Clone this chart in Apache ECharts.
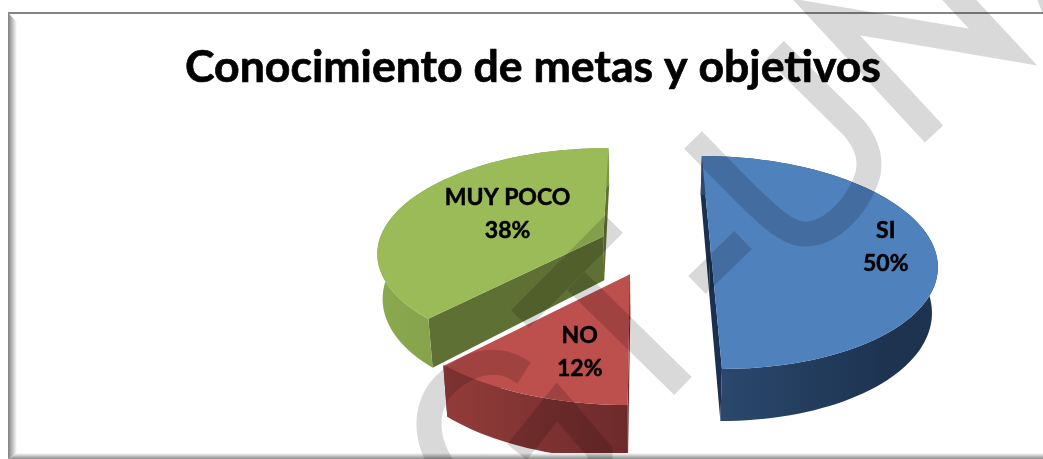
<!DOCTYPE html>
<html><head><meta charset="utf-8">
<style>html,body{margin:0;padding:0;background:#fff}#c{width:1043px;height:459px}</style>
<script src="https://cdn.jsdelivr.net/npm/echarts@6/dist/echarts.min.js"></script>
</head><body><div id="c"></div>
<script>
const chartTitle = 'Conocimiento de metas y objetivos';
const categories = ['SI', 'NO', 'MUY POCO'];
const values = [50, 12, 38];

// perspective of the 3D pie
const VP = {x: 643, y: -467}, G = 4891, WALL = 305, BOTTOM_SCALE = 0.98;
const sliceGeom = [
  {X: 462, E: 6.851, F: 1530, z: 5, top: '#4f81bd', walls: ['#2c4a70', '#1d3350'], side: '#1b3050', label: {r: .785, a: 90}},
  {X: -86, E: 6.609, F: 1590, z: 3, top: '#bd4f4c', walls: ['#923c3a', '#6d2a2a'], side: '#6d2a2a', label: {r: .665, a: 196}, sep: true},
  {X: -275, E: 6.953, F: 1550, z: 1, top: '#9bbb59', walls: ['#8aa84e', '#7d9845'], side: '#5e7034', label: {r: .505, a: 297}}
];
function pt(g, deg, r, low) {
  const t = deg * Math.PI / 180, e = g.E + r * Math.cos(t);
  let x = VP.x + (g.X + g.F * r * Math.sin(t)) / e, y = VP.y + G / e;
  if (low) { x = VP.x + (x - VP.x) * BOTTOM_SCALE; y += WALL / e; }
  return [x, y];
}
function arc(g, a, b, low) {
  const out = [], n = Math.ceil(Math.abs(b - a) / 2);
  for (let i = 0; i <= n; i++) out.push(pt(g, a + (b - a) * i / n, 1, low));
  return out;
}
const total = values.reduce((s, v) => s + v, 0);
function renderSlice(params, api) {
  const i = params.dataIndex, g = sliceGeom[i];
  let start = 0;
  for (let k = 0; k < i; k++) start += values[k] / total * 360;
  const end = start + api.value(0) / total * 360;
  const top = arc(g, start, end, false), low = arc(g, start, end, true);
  const c0 = pt(g, 0, 0, false), c1 = pt(g, 0, 0, true);
  const xs = low.map(p => p[0]);
  const grad = new echarts.graphic.LinearGradient(Math.min(...xs), 0, Math.min(Math.max(...xs), Math.min(...xs) + 190), 0,
    [{offset: 0, color: g.walls[0]}, {offset: 1, color: g.walls[1]}], true);
  const kids = [];
  const poly = (points, fill, z2) => kids.push({type: 'polygon', shape: {points}, style: {fill}, z2});
  poly([c0, top[0], low[0], c1], g.side, g.z);
  poly([c0, top[top.length - 1], low[low.length - 1], c1], g.side, g.z);
  poly(top.concat(low.slice().reverse()), grad, g.z);
  poly([c0].concat(top), g.top, g.z + 0.5);
  if (g.sep) kids.push({type: 'line', shape: {x1: c0[0], y1: c0[1], x2: top[top.length - 1][0], y2: top[top.length - 1][1]},
    style: {stroke: '#fff', lineWidth: 2}, z2: g.z + 0.6});
  const lp = pt(g, g.label.a, g.label.r, false);
  kids.push({type: 'text', x: lp[0], y: lp[1], z2: 20, style: {
    text: api.value(1) + '\n' + Math.round(api.value(0) / total * 100) + '%',
    font: 'bold 23px Lato', fill: '#000', stroke: '#000', lineWidth: 0.5,
    align: 'center', verticalAlign: 'middle', lineHeight: 33}});
  return {type: 'group', children: kids};
}
const wm = 'rgba(0,0,0,0.15)';
const marks = [
  'M934 134 L826 17 L1003 47 L950 -10',
  'M1047 -10 L1066 40',
  'M775 50 L850 124 C870 144 872 165 866 180 C856 208 830 234 806 234 C782 234 762 210 693 140',
  'M743 240 L697 285',
  'M614 224 L520 319',
  'M576 281 L683 386',
  'M524 373 C490 348 455 372 440 390 C425 410 424 440 445 470',
  'M517 452 L557 402 L600 452 L600 470'
];
function strokePoints(d) {
  const toks = d.match(/[MLC]|-?\d+(\.\d+)?/g), pts = [];
  let i = 0, cmd = '';
  const num = () => +toks[i++];
  while (i < toks.length) {
    if (/[MLC]/.test(toks[i])) cmd = toks[i++];
    if (cmd === 'C') {
      const p0 = pts[pts.length - 1], a = [num(), num()], b = [num(), num()], c = [num(), num()];
      for (let k = 1; k <= 16; k++) {
        const t = k / 16, u = 1 - t;
        pts.push([0, 1].map(j => u*u*u*p0[j] + 3*u*u*t*a[j] + 3*u*t*t*b[j] + t*t*t*c[j]));
      }
    } else pts.push([num(), num()]);
  }
  return pts;
}
const graphic = marks.map(d => ({type: 'polyline', z: 100, silent: true, shape: {points: strokePoints(d)},
  style: {fill: null, stroke: wm, lineWidth: 25, lineJoin: 'miter', miterLimit: 10}}));
const edge = (a, b, x1, y1, x2, y2) => new echarts.graphic.LinearGradient(x1, y1, x2, y2, [{offset: 0, color: a}, {offset: 1, color: b}]);
graphic.push(
  {type: 'polygon', z: 50, silent: true, shape: {points: [[8, 13], [17, 22], [17, 453], [8, 459]]},
    style: {fill: edge('#7f7f7f', '#ffffff', 0, 0, 1, 0)}},
  {type: 'polygon', z: 50, silent: true, shape: {points: [[8, 459], [17, 453], [1043, 453], [1043, 459]]},
    style: {fill: edge('#ffffff', '#8a8a8a', 0, 0, 0, 1)}},
  {type: 'line', z: 51, silent: true, shape: {x1: 8, y1: 13, x2: 1043, y2: 13}, style: {stroke: '#858585', lineWidth: 2}}
);
const chart = echarts.init(document.getElementById('c'), null, {renderer: 'canvas'});
chart.setOption({
  animation: false,
  backgroundColor: '#fff',
  title: {text: chartTitle, left: 533, top: 40, textAlign: 'center', 
    textStyle: {fontFamily: 'Lato', fontWeight: 'bold', fontSize: 44.6, color: '#000', textBorderColor: '#000', textBorderWidth: 0.7}},
  series: [{type: 'custom', coordinateSystem: 'none', renderItem: renderSlice,
    data: categories.map((c, i) => [values[i], c]),
    dimensions: [{name: 'value', type: 'number'}, {name: 'name', type: 'ordinal'}]}],
  graphic: graphic
});
chart.setOption({title: {left: 528}});
</script></body></html>
